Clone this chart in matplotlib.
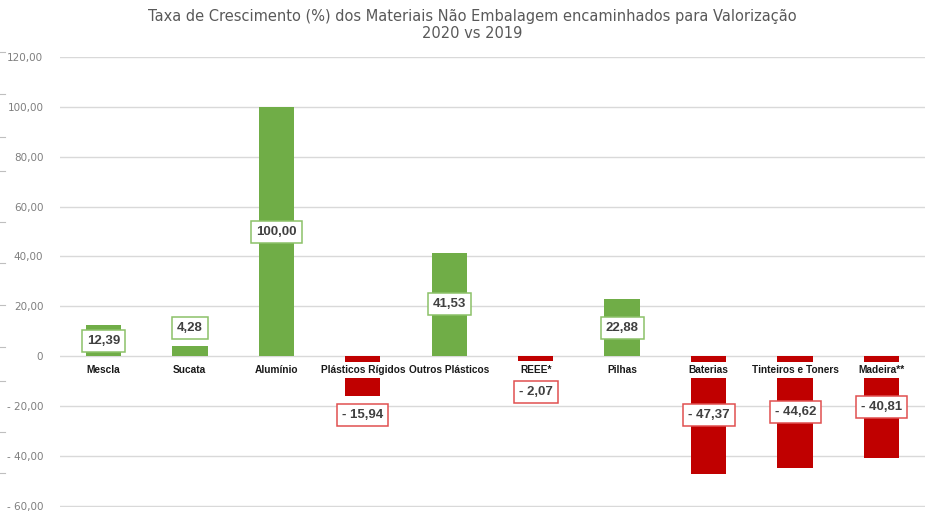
import matplotlib.pyplot as plt
from matplotlib.lines import Line2D

categorias = ["Mescla", "Sucata", "Alumínio", "Plásticos Rígidos", "Outros Plásticos",
              "REEE*", "Pilhas", "Baterias", "Tinteiros e Toners", "Madeira**"]
valores = [12.39, 4.28, 100.00, -15.94, 41.53, -2.07, 22.88, -47.37, -44.62, -40.81]
# posição do rótulo: "c" = centro da barra, "o" = fora, na ponta
posicao = ["c", "o", "c", "o", "c", "o", "c", "c", "c", "c"]
yticks = [-60, -40, -20, 0, 20, 40, 60, 80, 100, 120]

verde = "#70AD47"
vermelho = "#C00000"


def fmt(v):
    if v == 0:
        return "0"
    s = f"{abs(v):.2f}".replace(".", ",")
    return ("- " + s) if v < 0 else s


fig = plt.figure(figsize=(9.28, 5.12), dpi=100)
ax = fig.add_axes([0.0647, 0.0098, 0.932, 0.8791])

x = list(range(len(categorias)))
cores = [verde if v >= 0 else vermelho for v in valores]
ax.bar(x, valores, width=0.41, color=cores, zorder=2)

ax.set_ylim(-60.4, 120)
ax.set_xlim(-0.5, len(categorias) - 0.5)
ax.set_yticks(yticks)
ax.set_yticklabels([fmt(t) for t in yticks], color="#7F7F7F", fontsize=7.5)
ax.tick_params(axis="y", length=0, pad=12)
ax.set_xticks([])
ax.yaxis.grid(True, color="#D9D9D9", linewidth=1)
ax.set_axisbelow(True)
for s in ax.spines.values():
    s.set_visible(False)

# rótulos das categorias sobre a linha do zero
for i, c in enumerate(categorias):
    ax.text(i, -5.6, c, ha="center", va="center", fontsize=7.3, fontweight="bold",
            family="Liberation Sans", color="#1A1A1A", zorder=4,
            bbox=dict(boxstyle="square,pad=0.3", fc="white", ec="none"))

# rótulos dos valores
for i, (v, p) in enumerate(zip(valores, posicao)):
    if p == "c":
        y = v / 2
    elif v >= 0:
        y = v + 7
    else:
        y = min(v - 7.6, -14.4)
    ec = "#8CC168" if v >= 0 else "#E05050"
    ax.text(i, y, fmt(v), ha="center", va="center", fontsize=9.5, fontweight="bold",
            family="Liberation Sans", color="#404040", zorder=5,
            bbox=dict(boxstyle="square,pad=0.38", fc="white", ec=ec, lw=1.1))

fig.text(0.509, 0.968, "Taxa de Crescimento (%) dos Materiais Não Embalagem encaminhados para Valorização",
         ha="center", va="center", fontsize=10.5, color="#595959")
fig.text(0.509, 0.935, "2020 vs 2019", ha="center", va="center", fontsize=10.5, color="#595959")

# pequenos traços na margem esquerda
for yp in [52, 94, 137, 171, 222, 263, 305, 347, 381, 432, 473]:
    fig.add_artist(Line2D([0, 5 / 928], [1 - yp / 512] * 2, color="#BFBFBF", lw=0.8))

fig.savefig("out.png", dpi=100)
